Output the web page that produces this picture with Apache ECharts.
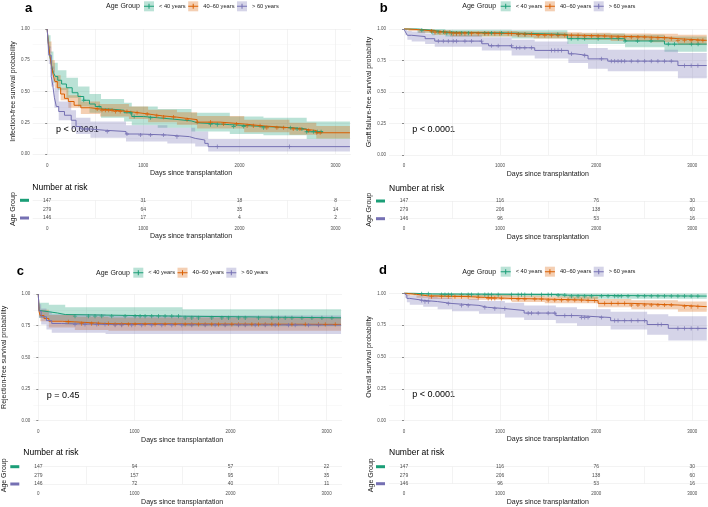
<!DOCTYPE html>
<html>
<head>
<meta charset="UTF-8">
<title>Survival by age group</title>
<script src="https://cdn.jsdelivr.net/npm/echarts@6/dist/echarts.min.js"></script>
<style>
  html, body { margin: 0; padding: 0; background: #fff; }
  #main { width: 708px; height: 507px; }
</style>
</head>
<body>
<div id="main"></div>
<script>
// groups and colours
var groups = ['< 40 years', '40–60 years', '> 60 years'];
var colors = ['#1B9E77', '#D95F02', '#7570B3'];
var bandColors = ['rgba(27,158,119,0.3)', 'rgba(217,95,2,0.3)', 'rgba(117,112,179,0.3)'];
var riskDays = [0, 1000, 2000, 3000];

// a: infection-free survival, [day, survival]
var infYoung = [[0,1],[10,0.9],[20,0.82],[35,0.75],[50,0.69],[65,0.65],[85,0.62],[110,0.59],[150,0.56],[200,0.53],[260,0.49],[320,0.46],[380,0.43],[440,0.4],[500,0.38],[560,0.36],[650,0.35],[800,0.33],[880,0.3],[1000,0.29],[1150,0.28],[1300,0.265],[1500,0.25],[1560,0.235],[1900,0.22],[2250,0.21],[2560,0.2],[2700,0.178],[2870,0.178]];
var infMid = [[0,1],[10,0.9],[17,0.855],[30,0.78],[45,0.7],[60,0.64],[80,0.58],[105,0.53],[140,0.48],[180,0.445],[220,0.42],[280,0.39],[350,0.37],[450,0.36],[550,0.35],[700,0.34],[850,0.33],[950,0.32],[1050,0.305],[1200,0.295],[1350,0.285],[1450,0.275],[1560,0.255],[1800,0.24],[2050,0.225],[2250,0.21],[2520,0.2],[2660,0.188],[2800,0.17],[3150,0.17]];
var infOld = [[0,1],[17,0.79],[42,0.62],[58,0.55],[75,0.45],[95,0.38],[120,0.34],[180,0.31],[250,0.27],[300,0.22],[350,0.2],[450,0.19],[600,0.18],[820,0.16],[960,0.152],[1250,0.139],[1480,0.125],[1540,0.112],[1640,0.085],[1675,0.059],[3150,0.059]];
// confidence bands, [day, lower, upper]
var infYoungCI = [[0,1,1],[10,0.85,0.95],[35,0.68,0.82],[65,0.57,0.73],[110,0.51,0.67],[200,0.45,0.61],[320,0.38,0.54],[440,0.33,0.48],[560,0.29,0.44],[800,0.26,0.41],[880,0.23,0.38],[1150,0.21,0.36],[1500,0.18,0.33],[1900,0.16,0.3],[2250,0.15,0.29],[2700,0.12,0.26],[3150,0.12,0.26]];
var infMidCI = [[0,1,1],[17,0.81,0.9],[45,0.65,0.75],[80,0.53,0.63],[140,0.43,0.53],[220,0.37,0.47],[350,0.32,0.42],[550,0.3,0.4],[850,0.28,0.38],[1050,0.255,0.355],[1350,0.235,0.335],[1560,0.205,0.305],[2050,0.175,0.275],[2520,0.155,0.25],[2800,0.125,0.225],[3150,0.125,0.225]];
var infOldCI = [[0,1,1],[17,0.72,0.86],[42,0.54,0.7],[75,0.37,0.53],[120,0.27,0.42],[250,0.2,0.35],[300,0.16,0.29],[450,0.13,0.26],[820,0.1,0.23],[1250,0.085,0.21],[1540,0.06,0.18],[1675,0.02,0.12],[3150,0.02,0.12]];
var infYoungCens = [380,540,870,905,1075,1700,1770,1940,2045,2250,2530,2600,2650,2700,2770,2810,2850];
var infMidCens = [520,570,605,640,675,710,760,830,935,1040,1140,1210,1315,1455,1560,1700,1835,1970,2080,2145,2215,2285,2390,2460,2560,2630,2720,2805,2840];
var infOldCens = [415,625,830,970,1075,1210,1350,1770,2520];
var infRisk = [[147,31,18,8],[279,64,35,14],[146,17,4,2]];

// b: graft failure-free survival
var graftYoung = [[0,1],[140,0.99],[290,0.976],[430,0.968],[1120,0.957],[1700,0.923],[2300,0.905],[2710,0.88],[3150,0.88]];
var graftMid = [[0,1],[45,0.995],[150,0.984],[320,0.973],[480,0.963],[1180,0.957],[1350,0.95],[1850,0.944],[2150,0.936],[2570,0.93],[2750,0.923],[2850,0.91],[3150,0.91]];
var graftOld = [[0,1],[15,0.976],[35,0.95],[80,0.94],[220,0.923],[320,0.904],[810,0.883],[880,0.867],[1120,0.851],[1360,0.83],[1710,0.803],[1780,0.79],[1915,0.763],[2120,0.745],[2850,0.71],[3150,0.71]];
var graftYoungCI = [[0,1,1],[140,0.97,1],[290,0.95,1],[430,0.94,0.995],[1120,0.925,0.99],[1700,0.88,0.965],[2300,0.855,0.955],[2710,0.82,0.94],[3150,0.82,0.94]];
var graftMidCI = [[0,1,1],[45,0.985,1],[150,0.97,0.998],[320,0.955,0.99],[480,0.94,0.985],[1180,0.935,0.98],[1350,0.925,0.975],[1850,0.915,0.97],[2150,0.905,0.965],[2570,0.895,0.962],[2850,0.875,0.955],[3150,0.875,0.955]];
var graftOldCI = [[0,1,1],[15,0.95,1],[35,0.915,0.985],[80,0.9,0.98],[220,0.88,0.965],[320,0.86,0.95],[810,0.83,0.935],[1120,0.79,0.915],[1360,0.765,0.9],[1710,0.73,0.88],[1915,0.685,0.85],[2120,0.665,0.835],[2850,0.61,0.81],[3150,0.61,0.81]];
var graftYoungCens = [185,290,355,410,445,495,545,600,670,840,910,1015,1190,1260,1600,1740,1810,1880,2020,2230,2300,2430,2570,2750,2815,2990,3060];
var graftMidCens = [287,322,374,426,478,512,547,582,634,703,772,841,876,945,997,1084,1119,1188,1257,1326,1396,1465,1534,1603,1673,1742,1811,1880,1950,2019,2088,2157,2227,2296,2365,2434,2504,2573,2642,2711,2781,2850,2919,2988,3058,3110];
var graftOldCens = [357,409,461,512,547,634,703,807,911,980,1119,1170,1205,1257,1326,1534,1569,1603,1638,1742,1880,2054,2157,2192,2227,2261,2296,2365,2434,2504,2573,2642,2711,2781,2919,2988,3058];
var graftRisk = [[147,116,76,30],[279,206,138,60],[146,96,53,16]];

// c: rejection-free survival
var rejYoung = [[0,1],[8,0.87],[25,0.86],[110,0.85],[200,0.838],[280,0.825],[1500,0.812],[3150,0.812]];
var rejMid = [[0,1],[8,0.86],[20,0.83],[60,0.806],[110,0.785],[250,0.78],[380,0.766],[730,0.76],[3150,0.76]];
var rejOld = [[0,1],[8,0.865],[30,0.82],[85,0.79],[140,0.767],[240,0.76],[700,0.755],[3150,0.755]];
var rejYoungCI = [[0,1,1],[8,0.81,0.93],[110,0.79,0.915],[280,0.76,0.895],[1500,0.745,0.88],[3150,0.745,0.88]];
var rejMidCI = [[0,1,1],[8,0.82,0.9],[20,0.785,0.875],[110,0.735,0.835],[380,0.715,0.82],[730,0.71,0.815],[3150,0.71,0.815]];
var rejOldCI = [[0,1,1],[8,0.81,0.92],[30,0.76,0.885],[85,0.72,0.86],[140,0.695,0.84],[700,0.685,0.83],[3150,0.685,0.83]];
var rejYoungCens = [382,521,590,660,764,903,1007,1059,1111,1180,1250,1319,1389,1458,1528,1597,1666,1805,1910,1979,2083,2153,2292,2430,2500,2569,2639,2743,2847,2951,3055];
var rejMidCens = [312,451,555,625,729,799,868,937,1007,1111,1215,1319,1424,1528,1597,1666,1736,1805,1875,1944,2014,2083,2153,2222,2292,2361,2430,2500,2639,2778,2916,2986,3090];
var rejOldCens = [382,486,608,694,799,868,972,1076,1180,1285,1389,1493,1597,1736,1840,1944,2083,2153,2257,2361,2465,2604,2673,2812,2916];
var rejRisk = [[147,94,57,22],[279,157,95,35],[146,72,40,11]];

// d: overall survival
var osYoung = [[0,1],[100,0.995],[300,0.99],[1600,0.985],[1700,0.978],[3150,0.978]];
var osMid = [[0,1],[25,0.992],[130,0.98],[250,0.974],[670,0.968],[840,0.96],[1120,0.955],[1465,0.947],[1880,0.942],[2020,0.921],[2365,0.908],[2850,0.895],[3150,0.895]];
var osOld = [[0,1],[10,0.985],[30,0.96],[60,0.945],[200,0.935],[350,0.92],[500,0.905],[780,0.89],[870,0.88],[1050,0.865],[1250,0.845],[1580,0.825],[1800,0.81],[2150,0.785],[2530,0.755],[2750,0.725],[3150,0.725]];
var osYoungCI = [[0,1,1],[100,0.985,1],[300,0.975,1],[1600,0.968,1],[1700,0.958,0.998],[3150,0.958,0.998]];
var osMidCI = [[0,1,1],[25,0.982,1],[130,0.965,0.995],[250,0.955,0.99],[670,0.95,0.987],[1120,0.932,0.98],[1465,0.922,0.975],[2020,0.89,0.955],[2365,0.875,0.945],[2850,0.855,0.935],[3150,0.855,0.935]];
var osOldCI = [[0,1,1],[10,0.965,1],[30,0.93,0.99],[60,0.91,0.98],[200,0.895,0.975],[350,0.875,0.965],[500,0.86,0.955],[780,0.84,0.94],[1050,0.81,0.925],[1250,0.79,0.905],[1580,0.765,0.89],[1800,0.745,0.875],[2150,0.715,0.855],[2530,0.675,0.835],[2750,0.63,0.82],[3150,0.63,0.82]];
var osYoungCens = [184,253,391,426,461,495,599,668,703,772,841,876,911,980,1119,1188,1222,1257,1326,1430,1500,1534,1603,1673,1742,1811,1880,1950,2054,2123,2192,2227,2261,2331,2434,2504,2573,2642,2711,2781,2850,2919,2988,3058];
var osMidCens = [287,391,461,530,599,668,772,876,911,945,1015,1119,1188,1257,1361,1430,1500,1569,1638,1707,1777,1846,1915,1984,2088,2157,2227,2296,2365,2434,2504,2573,2642,2711,2781,2919,2988,3058];
var osOldCens = [184,218,253,461,599,668,841,945,1049,1292,1326,1396,1500,1569,1673,1742,1846,1880,1915,2054,2192,2227,2296,2365,2434,2504,2642,2677,2850,2919,2988,3058];
var osRisk = [[147,116,76,30],[279,206,138,60],[146,96,53,16]];

var panels = [
  { letter: 'a', yTitle: 'Infection-free survival probability', p: 'p < 0.0001',
    curves: [infYoung, infMid, infOld], bands: [infYoungCI, infMidCI, infOldCI],
    cens: [infYoungCens, infMidCens, infOldCens], risk: infRisk,
    lay: { x0: 47.2, top: 29, h: 125, yOff: 14.5, yGap: 15.7, xLab: 9.45, xGap: 15.5, rTop: 200.3, rH: 17.7, rLab: 8.05, rGap: 14.5, ageGap: 30.7, barM: 18.2,
           letter: [25, 8.3], key: 144, keyY: 6.3, agX: 106, pX: 56, pY: 129.5, narX: 32.3, narY: 187.7 } },
  { letter: 'b', yTitle: 'Graft failure-free survival probability', p: 'p < 0.0001',
    curves: [graftYoung, graftMid, graftOld], bands: [graftYoungCI, graftMidCI, graftOldCI],
    cens: [graftYoungCens, graftMidCens, graftOldCens], risk: graftRisk,
    lay: { x0: 404, top: 29, h: 126, yOff: 15, yGap: 16, xLab: 8.45, xGap: 15.5, rTop: 201, rH: 17.7, rLab: 8.05, rGap: 14.5, ageGap: 31.5, barM: 19,
           letter: [379.7, 8], key: 500.7, keyY: 6.3, agX: 462.3, pX: 412.3, pY: 130, narX: 389, narY: 188.3 } },
  { letter: 'c', yTitle: 'Rejection-free survival probability', p: 'p = 0.45',
    curves: [rejYoung, rejMid, rejOld], bands: [rejYoungCI, rejMidCI, rejOldCI],
    cens: [rejYoungCens, rejMidCens, rejOldCens], risk: rejRisk,
    lay: { x0: 38.3, top: 294, h: 126.7, yOff: 5, yGap: 25.3, xLab: 9.05, xGap: 15.8, rTop: 466.7, rH: 17.3, rLab: 7.75, rGap: 14.2, ageGap: 30.8, barM: 19,
           letter: [16.7, 271.7], key: 133.3, keyY: 272.7, agX: 96, pX: 46.7, pY: 395.7, narX: 23.3, narY: 453 } },
  { letter: 'd', yTitle: 'Overall survival probability', p: 'p < 0.0001',
    curves: [osYoung, osMid, osOld], bands: [osYoungCI, osMidCI, osOldCI],
    cens: [osYoungCens, osMidCens, osOldCens], risk: osRisk,
    lay: { x0: 404, top: 293.3, h: 127.4, yOff: 15, yGap: 16, xLab: 8.75, xGap: 15.1, rTop: 466.7, rH: 17, rLab: 8.05, rGap: 14.5, ageGap: 29.8, barM: 19,
           letter: [379, 270.7], key: 500.7, keyY: 271.7, agX: 462.3, pX: 412.3, pY: 395, narX: 389, narY: 453 } }
];

var FONT = '"Liberation Sans", Arial, Helvetica, sans-serif';
var PLOT_W = 303.7;
var GRID_LINE = { color: '#EBEBEB', width: 0.6 };
var crossIcon = 'path://M0,4.5h10v1h-10z M4.5,2.5h1v5h-1z M0,0h0.01v0.01h-0.01z M9.99,9.99h0.01v0.01h-0.01z';
var plusSymbol = 'path://M0,2h5v1h-5z M2,0h1v5h-1z';

// survival value of a step curve at day t
function survAt(curve, t) {
    var s = curve[0][1];
    for (var i = 0; i < curve.length; i++) {
        if (curve[i][0] <= t) s = curve[i][1];
    }
    return s;
}

function dayLabel(v) { return v % 1000 === 0 ? String(v) : ''; }

var grids = [], xAxes = [], yAxes = [], series = [], legends = [], graphics = [];

panels.forEach(function (pn, i) {
    var L = pn.lay;
    var gPlot = i * 2, gRisk = i * 2 + 1;
    grids.push({ left: L.x0, top: L.top, width: PLOT_W, height: L.h, outerBoundsMode: 'none' });
    grids.push({ left: L.x0, top: L.rTop, width: PLOT_W, height: L.rH, outerBoundsMode: 'none' });

    // survival plot axes
    xAxes.push({
        type: 'value', gridIndex: gPlot, min: 0, max: 3160, interval: 500,
        axisLine: { show: false }, axisTick: { show: false },
        axisLabel: { formatter: dayLabel, fontSize: 4.5, color: '#4D4D4D', margin: L.xLab, fontFamily: FONT },
        splitLine: { show: true, showMaxLine: false, lineStyle: GRID_LINE },
        name: 'Days since transplantation', nameLocation: 'middle', nameGap: L.xGap, nameMoveOverlap: false,
        nameTextStyle: { fontSize: 7, color: '#1A1A1A', padding: [0, 16, 0, 0], fontFamily: FONT }
    });
    yAxes.push({
        type: 'value', gridIndex: gPlot, min: 0, max: 1, interval: 0.25, offset: L.yOff,
        axisLine: { show: false },
        axisTick: { show: true, length: 2, lineStyle: { color: '#444', width: 0.6 } },
        axisLabel: { formatter: function (v) { return v.toFixed(2); }, fontSize: 4.5, color: '#4D4D4D', margin: 3, fontFamily: FONT },
        splitLine: { show: false },
        name: pn.yTitle, nameLocation: 'middle', nameGap: L.yGap, nameMoveOverlap: false,
        nameTextStyle: { fontSize: 7, color: '#1A1A1A', fontFamily: FONT }
    });

    // risk table axes
    xAxes.push({
        type: 'value', gridIndex: gRisk, min: 0, max: 3160, interval: 500,
        axisLine: { show: false }, axisTick: { show: false },
        axisLabel: { formatter: dayLabel, fontSize: 4.5, color: '#4D4D4D', margin: L.rLab, fontFamily: FONT },
        splitLine: { show: true, showMaxLine: false, lineStyle: GRID_LINE },
        name: 'Days since transplantation', nameLocation: 'middle', nameGap: L.rGap, nameMoveOverlap: false,
        nameTextStyle: { fontSize: 7, color: '#1A1A1A', padding: [0, 16, 0, 0], fontFamily: FONT }
    });
    yAxes.push({
        type: 'category', gridIndex: gRisk, data: groups, inverse: true, boundaryGap: false,
        axisLine: { show: false }, axisTick: { show: false },
        axisLabel: {
            margin: L.barM,
            formatter: function (v, idx) { return '{b' + idx + '| }'; },
            rich: {
                b0: { backgroundColor: colors[0], width: 9, height: 3, lineHeight: 3, fontSize: 2 },
                b1: { backgroundColor: colors[1], width: 9, height: 3, lineHeight: 3, fontSize: 2 },
                b2: { backgroundColor: colors[2], width: 9, height: 3, lineHeight: 3, fontSize: 2 }
            }
        },
        splitLine: { show: false },
        name: 'Age Group', nameLocation: 'middle', nameGap: L.ageGap, nameMoveOverlap: false,
        nameTextStyle: { fontSize: 7, color: '#1A1A1A', fontFamily: FONT }
    });

    groups.forEach(function (gname, g) {
        var band = pn.bands[g];
        series.push({
            type: 'custom', name: 'band', xAxisIndex: gPlot, yAxisIndex: gPlot,
            data: [[0, 0]], silent: true, z: 1, clip: false,
            renderItem: function (params, api) {
                var up = [], lo = [];
                for (var k = 0; k < band.length; k++) {
                    up.push(api.coord([band[k][0], band[k][2]]));
                    lo.push(api.coord([band[k][0], band[k][1]]));
                    if (k + 1 < band.length) {
                        up.push(api.coord([band[k + 1][0], band[k][2]]));
                        lo.push(api.coord([band[k + 1][0], band[k][1]]));
                    }
                }
                return { type: 'polygon', shape: { points: up.concat(lo.reverse()) }, style: { fill: bandColors[g] } };
            }
        });
        series.push({
            type: 'line', name: gname, xAxisIndex: gPlot, yAxisIndex: gPlot,
            data: pn.curves[g], step: 'end', symbol: 'none', clip: false, z: 3,
            color: colors[g], lineStyle: { width: 1, color: colors[g] }, silent: true
        });
        series.push({
            type: 'scatter', name: 'censored', xAxisIndex: gPlot, yAxisIndex: gPlot,
            data: pn.cens[g].map(function (t) { return [t, survAt(pn.curves[g], t)]; }),
            symbol: plusSymbol, symbolSize: 4.2, clip: false, z: 4, silent: true,
            itemStyle: { color: colors[g] }
        });
        series.push({
            type: 'scatter', name: 'risk', xAxisIndex: gRisk, yAxisIndex: gRisk,
            data: riskDays.map(function (d, j) { return [d, gname, pn.risk[g][j]]; }),
            symbolSize: 1, itemStyle: { color: 'rgba(0,0,0,0)' }, clip: false, silent: true,
            label: { show: true, position: 'inside', formatter: function (p) { return p.value[2]; },
                     fontSize: 5, color: '#222', fontFamily: FONT }
        });
    });

    // legend: light key boxes underneath, line-with-tick keys and labels on top
    var legBase = {
        left: L.key, top: L.keyY - 5, orient: 'horizontal', itemWidth: 10, itemHeight: 10, itemGap: 2.5,
        padding: 0, selectedMode: false
    };
    legends.push(Object.assign({}, legBase, {
        icon: 'rect', itemStyle: { borderWidth: 0 },
        data: groups.map(function (n, g) { return { name: n, itemStyle: { color: bandColors[g], borderWidth: 0 } }; }),
        textStyle: { fontSize: 5.7, color: 'rgba(0,0,0,0)', fontFamily: FONT }
    }));
    legends.push(Object.assign({}, legBase, {
        icon: crossIcon, itemStyle: { borderWidth: 0 },
        data: groups.map(function (n, g) { return { name: n, itemStyle: { color: colors[g], borderWidth: 0 } }; }),
        textStyle: { fontSize: 5.7, color: '#1A1A1A', fontFamily: FONT }
    }));

    graphics.push({ type: 'text', x: L.letter[0], y: L.letter[1], silent: true,
        style: { text: pn.letter, fontSize: 13, fontWeight: 'bold', fontFamily: FONT, fill: '#000', align: 'left', verticalAlign: 'middle' } });
    graphics.push({ type: 'text', x: L.agX, y: L.keyY, silent: true,
        style: { text: 'Age Group', fontSize: 7, fontFamily: FONT, fill: '#1A1A1A', align: 'left', verticalAlign: 'middle' } });
    graphics.push({ type: 'text', x: L.pX, y: L.pY, silent: true,
        style: { text: pn.p, fontSize: 9, fontFamily: FONT, fill: '#000', align: 'left', verticalAlign: 'middle' } });
    graphics.push({ type: 'text', x: L.narX, y: L.narY, silent: true,
        style: { text: 'Number at risk', fontSize: 8.5, fontFamily: FONT, fill: '#000', align: 'left', verticalAlign: 'middle' } });
});

// background grids: horizontal grid lines run across the whole panel, left padding included
panels.forEach(function (pn, i) {
    var L = pn.lay;
    var gBg = grids.length;
    grids.push({ left: L.x0 - L.yOff, top: L.top, width: PLOT_W + L.yOff, height: L.h, outerBoundsMode: 'none' });
    xAxes.push({ type: 'value', gridIndex: gBg, min: 0, max: 1, show: false });
    yAxes.push({
        type: 'value', gridIndex: gBg, min: 0, max: 1, interval: 0.25,
        axisLine: { show: false }, axisTick: { show: false }, axisLabel: { show: false },
        splitLine: { show: true, lineStyle: GRID_LINE },
        minorTick: { show: false, splitNumber: 2 },
        minorSplitLine: { show: true, lineStyle: { color: '#F3F3F3', width: 0.5 } }
    });
    var rBg = grids.length;
    grids.push({ left: L.x0 - L.yOff, top: L.rTop, width: PLOT_W + L.yOff, height: L.rH, outerBoundsMode: 'none' });
    xAxes.push({ type: 'value', gridIndex: rBg, min: 0, max: 1, show: false });
    yAxes.push({
        type: 'category', gridIndex: rBg, data: groups, inverse: true, boundaryGap: false,
        axisLine: { show: false }, axisTick: { show: false }, axisLabel: { show: false },
        splitLine: { show: true, lineStyle: GRID_LINE }
    });
});

var chart = echarts.init(document.getElementById('main'), null, { renderer: 'canvas' });
chart.setOption({
    animation: false,
    backgroundColor: '#fff',
    textStyle: { fontFamily: FONT },
    grid: grids,
    xAxis: xAxes,
    yAxis: yAxes,
    legend: legends,
    graphic: graphics,
    series: series
});
</script>
</body>
</html>
